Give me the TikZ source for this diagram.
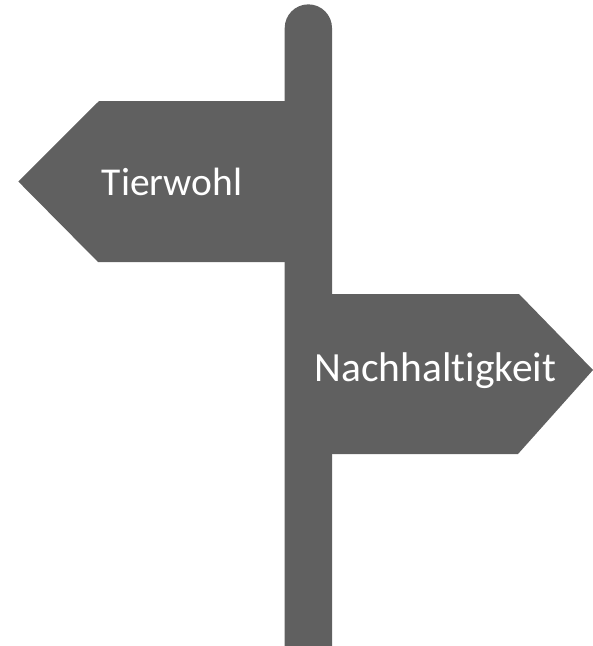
\documentclass[tikz,border=0pt]{standalone}
\usepackage{fontspec}
\setmainfont[Ligatures={NoCommon,NoRare}]{Carlito}
\definecolor{signgrey}{HTML}{606060}
\tikzset{
  signshape/.style={fill=signgrey, draw=none},
  signtext/.style={text=white, inner sep=0pt, anchor=base}
}
\begin{document}
\begin{tikzpicture}[x=1pt,y=-1pt]
\useasboundingbox (0,0) rectangle (593,646);
% post
\fill[signshape] (284.7,646) -- (284.7,28) arc[start angle=180, end angle=360, radius=23.65] -- (332,646) -- cycle;
% left sign
\fill[signshape] (18.3,181.5) -- (99,101) -- (286,101) -- (286,262) -- (98,262) -- cycle;
% right sign
\fill[signshape] (331,294) -- (519,294) -- (593,370) -- (518,454) -- (331,454) -- cycle;
\node[signtext, font=\fontsize{39.5}{46}\selectfont] (tierwohl) at (172,195) {Tierwohl};
\node[signtext, font=\fontsize{41.5}{48}\selectfont] (nachhaltigkeit) at (435.3,381) {Nachhalt\kern0pt igkeit};
\end{tikzpicture}
\end{document}
